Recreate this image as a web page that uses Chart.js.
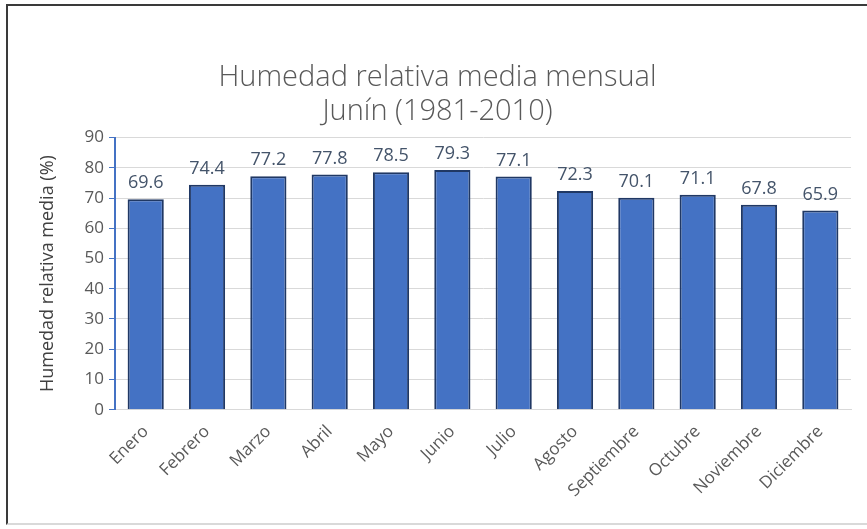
<!DOCTYPE html>
<html>
<head>
<meta charset="utf-8">
<script src="https://cdn.jsdelivr.net/npm/chart.js@4"></script>
<style>
  html, body { margin: 0; padding: 0; background: #fff; }
  #frame {
    position: absolute; left: 6px; top: 4px; width: 870px; height: 521px;
    border-top: 2px solid #3a3a3a; border-left: 2px solid #3a3a3a;
    border-bottom: 2px solid #d9d9d9; box-sizing: border-box;
  }
  #wrap { position: absolute; left: 0; top: 0; width: 867px; height: 529px; }
</style>
</head>
<body>
<div id="frame"></div>
<div id="wrap"><canvas id="chart"></canvas></div>
<script>
const months = ['Enero', 'Febrero', 'Marzo', 'Abril', 'Mayo', 'Junio', 'Julio', 'Agosto', 'Septiembre', 'Octubre', 'Noviembre', 'Diciembre']
const humidity = [69.6, 74.4, 77.2, 77.8, 78.5, 79.3, 77.1, 72.3, 70.1, 71.1, 67.8, 65.9]
const titleLines = ['Humedad relativa media mensual', 'Junín (1981-2010)']

const barLabels = {
  id: 'barLabels',
  afterDatasetsDraw(chart) {
    const { ctx } = chart
    ctx.save()
    ctx.font = '18px "Open Sans", sans-serif'
    ctx.fillStyle = '#44546A'
    ctx.textAlign = 'center'
    ctx.textBaseline = 'bottom'
    chart.getDatasetMeta(0).data.forEach((bar, i) => {
      ctx.fillText(humidity[i].toFixed(1), bar.x, bar.y - 7)
    })
    ctx.restore()
  }
}

new Chart(document.getElementById('chart'), {
  type: 'bar',
  data: {
    labels: months,
    datasets: [{
      data: humidity,
      backgroundColor: '#4472C4',
      borderColor: '#203864',
      borderWidth: 2,
      categoryPercentage: 1,
      barPercentage: 0.59
    }]
  },
  options: {
    responsive: true,
    maintainAspectRatio: false,
    animation: false,
    layout: { padding: { left: 24, right: 16, top: 20, bottom: 24 } },
    plugins: {
      legend: { display: false },
      tooltip: { enabled: false },
      title: {
        display: true,
        text: titleLines,
        color: '#595959',
        font: { family: 'Open Sans', size: 29, weight: 300, lineHeight: 1.2 },
        padding: { top: 40, bottom: 8 }
      }
    },
    scales: {
      x: {
        grid: { display: false },
        border: { color: '#d9d9d9', width: 1 },
        ticks: {
          color: '#595959',
          font: { family: 'Open Sans', size: 17 },
          maxRotation: 45,
          minRotation: 45,
          padding: 4
        }
      },
      y: {
        min: 0,
        max: 90,
        ticks: {
          stepSize: 10,
          color: '#595959',
          font: { family: 'Open Sans', size: 17 },
          padding: 5
        },
        grid: { color: '#d9d9d9', tickColor: '#4472C4', tickLength: 6 },
        border: { color: '#4472C4', width: 2 },
        title: {
          display: true,
          text: 'Humedad relativa media (%)',
          color: '#404040',
          font: { family: 'Open Sans', size: 18 },
          padding: { top: 13, bottom: 21 }
        }
      }
    }
  },
  plugins: [barLabels]
})
</script>
</body>
</html>
